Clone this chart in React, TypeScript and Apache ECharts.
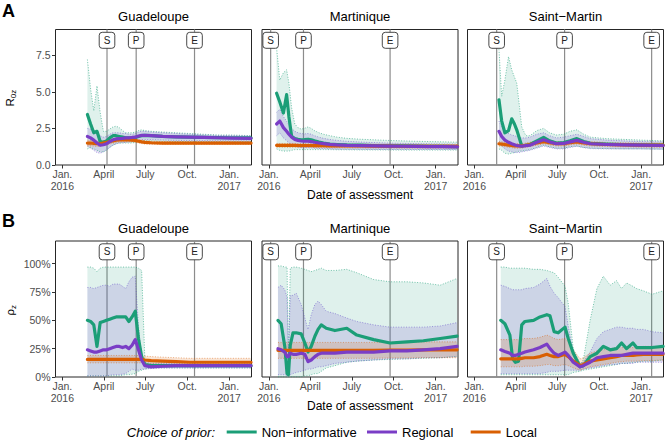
import React, { useEffect, useRef } from 'react';
import * as echarts from 'echarts';

// ---------- tick labels / categories ----------
const xTickValues = [0, 91, 182, 274, 366];
const xTickLabels = ['Jan.\n2016', 'April', 'July', 'Oct.', 'Jan.\n2017'];
const rTickValues = [0, 2.5, 5, 7.5];
const pTickValues = [0, 0.25, 0.5, 0.75, 1];
const regions = ['Guadeloupe', 'Martinique', 'Saint\u2212Martin'];
const priors = ['Non\u2212informative', 'Regional', 'Local'];
const eventLabels = ['S', 'P', 'E'];
// event dates (days since 1 Jan 2016)
const gEvents = [98, 162, 290];
const mEvents = [4, 76, 266];
const sEvents = [49, 198, 389];

// ---------- A: R0z, Guadeloupe ----------
const gDays = [55, 62, 69, 76, 83, 90, 97, 104, 111, 118, 125, 132, 139, 146, 153, 160, 167, 174, 181, 195, 220, 250, 280, 310, 340, 370, 414];
const gA_non = [3.45, 2.8, 2.2, 2.3, 1.6, 1.55, 1.65, 1.85, 2.0, 2.0, 1.95, 1.9, 1.85, 1.85, 1.85, 1.87, 1.95, 2.0, 2.02, 2.0, 1.95, 1.92, 1.9, 1.88, 1.87, 1.86, 1.85];
const gA_non_lo = [1.1, 1.2, 1.1, 1.0, 0.9, 0.9, 1.0, 1.2, 1.35, 1.45, 1.5, 1.5, 1.5, 1.5, 1.5, 1.55, 1.6, 1.65, 1.65, 1.63, 1.62, 1.61, 1.6, 1.6, 1.6, 1.6, 1.6];
const gA_non_hi = [7.2, 5.2, 3.7, 5.4, 3.6, 2.3, 2.3, 2.45, 2.6, 2.65, 2.55, 2.35, 2.2, 2.2, 2.2, 2.25, 2.35, 2.4, 2.35, 2.3, 2.25, 2.2, 2.15, 2.1, 2.05, 2.05, 2.0];
const gA_reg = [1.95, 1.85, 1.7, 1.5, 1.35, 1.38, 1.45, 1.6, 1.72, 1.78, 1.8, 1.82, 1.85, 1.85, 1.88, 1.9, 1.98, 2.02, 2.03, 2.0, 1.95, 1.92, 1.9, 1.88, 1.86, 1.84, 1.82];
const gA_reg_lo = [1.3, 1.15, 1.0, 0.85, 0.8, 0.9, 1.05, 1.2, 1.35, 1.45, 1.5, 1.52, 1.55, 1.57, 1.6, 1.62, 1.68, 1.72, 1.74, 1.73, 1.7, 1.68, 1.67, 1.66, 1.65, 1.64, 1.63];
const gA_reg_hi = [2.5, 2.45, 2.4, 2.2, 2.0, 1.9, 1.95, 2.1, 2.2, 2.2, 2.2, 2.15, 2.15, 2.1, 2.1, 2.15, 2.25, 2.3, 2.3, 2.25, 2.2, 2.15, 2.1, 2.05, 2.02, 2.0, 1.98];
const gA_loc = [1.5, 1.5, 1.48, 1.45, 1.45, 1.5, 1.55, 1.6, 1.65, 1.7, 1.72, 1.72, 1.72, 1.72, 1.7, 1.68, 1.62, 1.58, 1.55, 1.52, 1.5, 1.5, 1.5, 1.5, 1.5, 1.5, 1.5];
const gA_loc_lo = [1.3, 1.3, 1.29, 1.27, 1.28, 1.33, 1.38, 1.44, 1.49, 1.54, 1.57, 1.58, 1.58, 1.58, 1.57, 1.55, 1.5, 1.46, 1.43, 1.41, 1.4, 1.4, 1.4, 1.4, 1.4, 1.4, 1.4];
const gA_loc_hi = [1.7, 1.7, 1.68, 1.64, 1.63, 1.67, 1.72, 1.76, 1.81, 1.86, 1.87, 1.86, 1.86, 1.86, 1.83, 1.81, 1.74, 1.7, 1.67, 1.63, 1.6, 1.6, 1.6, 1.6, 1.6, 1.6, 1.6];

// ---------- B: rho z, Guadeloupe ----------
const gB_non = [0.5, 0.49, 0.46, 0.27, 0.48, 0.49, 0.5, 0.51, 0.52, 0.53, 0.53, 0.53, 0.53, 0.49, 0.53, 0.58, 0.34, 0.18, 0.11, 0.1, 0.1, 0.1, 0.1, 0.1, 0.1, 0.1, 0.1];
const gB_non_lo = [0.01, 0.01, 0.01, 0.01, 0.01, 0.01, 0.01, 0.01, 0.01, 0.01, 0.01, 0.015, 0.02, 0.02, 0.025, 0.03, 0.05, 0.06, 0.07, 0.08, 0.08, 0.08, 0.08, 0.08, 0.08, 0.08, 0.08];
const gB_non_hi = [0.97, 0.97, 0.96, 0.93, 0.96, 0.97, 0.97, 0.97, 0.97, 0.97, 0.97, 0.97, 0.97, 0.97, 0.97, 0.97, 0.96, 0.94, 0.16, 0.14, 0.13, 0.13, 0.13, 0.13, 0.13, 0.13, 0.13];
const gB_reg = [0.24, 0.23, 0.22, 0.22, 0.23, 0.24, 0.24, 0.25, 0.26, 0.27, 0.27, 0.26, 0.27, 0.25, 0.28, 0.33, 0.24, 0.15, 0.1, 0.09, 0.095, 0.1, 0.1, 0.1, 0.1, 0.1, 0.1];
const gB_reg_lo = [0.01, 0.01, 0.01, 0.01, 0.01, 0.01, 0.01, 0.015, 0.02, 0.02, 0.02, 0.025, 0.03, 0.05, 0.07, 0.06, 0.06, 0.07, 0.07, 0.075, 0.08, 0.08, 0.08, 0.08, 0.08, 0.08, 0.08];
const gB_reg_hi = [0.79, 0.79, 0.78, 0.79, 0.8, 0.81, 0.81, 0.8, 0.82, 0.82, 0.82, 0.8, 0.78, 0.84, 0.88, 0.89, 0.45, 0.18, 0.13, 0.12, 0.12, 0.12, 0.12, 0.12, 0.12, 0.12, 0.12];
const gB_loc = [0.155, 0.155, 0.155, 0.155, 0.155, 0.155, 0.155, 0.155, 0.155, 0.155, 0.155, 0.155, 0.155, 0.155, 0.155, 0.155, 0.155, 0.155, 0.15, 0.145, 0.14, 0.135, 0.13, 0.13, 0.13, 0.13, 0.13];
const gB_loc_lo = [0.125, 0.125, 0.125, 0.125, 0.125, 0.125, 0.125, 0.125, 0.125, 0.125, 0.125, 0.125, 0.125, 0.125, 0.125, 0.125, 0.125, 0.125, 0.12, 0.115, 0.11, 0.105, 0.1, 0.1, 0.1, 0.1, 0.1];
const gB_loc_hi = [0.19, 0.19, 0.19, 0.19, 0.19, 0.19, 0.19, 0.19, 0.19, 0.19, 0.19, 0.19, 0.19, 0.19, 0.19, 0.19, 0.19, 0.19, 0.185, 0.18, 0.175, 0.17, 0.165, 0.165, 0.165, 0.165, 0.165];

// ---------- A: R0z, Martinique ----------
const mA_days = [17, 24, 32, 39, 44, 50, 57, 64, 71, 78, 86, 93, 100, 110, 120, 134, 150, 171, 200, 230, 260, 290, 320, 350, 380, 414];
const mA_non = [4.9, 4.3, 3.55, 4.8, 3.3, 1.95, 1.8, 1.75, 1.72, 1.73, 1.76, 1.72, 1.65, 1.57, 1.5, 1.43, 1.4, 1.37, 1.35, 1.33, 1.31, 1.3, 1.29, 1.28, 1.27, 1.26];
const mA_non_lo = [1.1, 1.0, 0.95, 0.95, 0.95, 1.0, 1.05, 1.05, 1.05, 1.05, 1.05, 1.05, 1.05, 1.05, 1.05, 1.05, 1.04, 1.04, 1.03, 1.03, 1.03, 1.02, 1.02, 1.02, 1.02, 1.02];
const mA_non_hi = [8.0, 5.8, 6.3, 6.5, 5.6, 3.9, 2.8, 2.55, 2.45, 2.5, 2.6, 2.5, 2.35, 2.2, 2.1, 2.0, 1.9, 1.82, 1.76, 1.72, 1.68, 1.65, 1.62, 1.6, 1.58, 1.56];
const mA_reg = [2.8, 3.0, 2.55, 2.3, 2.1, 1.9, 1.75, 1.68, 1.64, 1.62, 1.62, 1.6, 1.55, 1.5, 1.46, 1.41, 1.37, 1.34, 1.32, 1.3, 1.29, 1.28, 1.27, 1.26, 1.25, 1.24];
const mA_reg_lo = [2.0, 2.2, 1.85, 1.65, 1.5, 1.38, 1.28, 1.22, 1.2, 1.18, 1.18, 1.17, 1.15, 1.13, 1.12, 1.1, 1.08, 1.07, 1.07, 1.06, 1.06, 1.06, 1.06, 1.06, 1.06, 1.06];
const mA_reg_hi = [3.6, 3.8, 3.3, 3.0, 2.75, 2.5, 2.3, 2.2, 2.15, 2.12, 2.15, 2.1, 2.0, 1.9, 1.82, 1.74, 1.68, 1.62, 1.57, 1.53, 1.5, 1.48, 1.46, 1.45, 1.44, 1.43];
const mA_loc = [1.34, 1.34, 1.34, 1.34, 1.34, 1.34, 1.34, 1.33, 1.33, 1.33, 1.33, 1.33, 1.32, 1.32, 1.32, 1.31, 1.31, 1.3, 1.3, 1.29, 1.29, 1.28, 1.28, 1.27, 1.27, 1.27];
const mA_loc_lo = [1.21, 1.21, 1.21, 1.21, 1.21, 1.21, 1.21, 1.2, 1.2, 1.2, 1.2, 1.2, 1.19, 1.19, 1.19, 1.18, 1.18, 1.17, 1.17, 1.16, 1.16, 1.15, 1.15, 1.14, 1.14, 1.14];
const mA_loc_hi = [1.47, 1.47, 1.47, 1.47, 1.47, 1.47, 1.47, 1.46, 1.46, 1.46, 1.46, 1.46, 1.45, 1.45, 1.45, 1.44, 1.44, 1.43, 1.43, 1.42, 1.42, 1.41, 1.41, 1.4, 1.4, 1.4];

// ---------- B: rho z, Martinique ----------
const mB_days = [20, 27, 35, 40, 43, 47, 53, 60, 71, 79, 86, 93, 101, 108, 115, 126, 145, 171, 193, 230, 266, 303, 339, 376, 413];
const mB_non = [0.5, 0.47, 0.27, 0.03, 0.02, 0.28, 0.39, 0.39, 0.38, 0.3, 0.22, 0.27, 0.36, 0.42, 0.46, 0.43, 0.41, 0.43, 0.37, 0.33, 0.3, 0.31, 0.32, 0.34, 0.36];
const mB_non_lo = [0.0, 0.0, 0.0, 0.0, 0.0, 0.0, 0.0, 0.0, 0.0, 0.01, 0.01, 0.02, 0.03, 0.03, 0.05, 0.08, 0.1, 0.13, 0.14, 0.15, 0.155, 0.16, 0.165, 0.17, 0.18];
const mB_non_hi = [0.98, 0.98, 0.97, 0.97, 0.15, 0.96, 0.97, 0.97, 0.96, 0.95, 0.94, 0.93, 0.94, 0.95, 0.96, 0.94, 0.94, 0.95, 0.92, 0.86, 0.84, 0.84, 0.83, 0.81, 0.87];
const mB_reg = [0.25, 0.24, 0.22, 0.18, 0.18, 0.21, 0.2, 0.2, 0.21, 0.2, 0.135, 0.15, 0.18, 0.2, 0.21, 0.21, 0.21, 0.22, 0.22, 0.22, 0.23, 0.23, 0.24, 0.25, 0.27];
const mB_reg_lo = [0.02, 0.02, 0.02, 0.01, 0.01, 0.02, 0.03, 0.04, 0.05, 0.06, 0.07, 0.07, 0.08, 0.09, 0.09, 0.1, 0.12, 0.13, 0.14, 0.15, 0.16, 0.16, 0.17, 0.17, 0.18];
const mB_reg_hi = [0.79, 0.81, 0.77, 0.7, 0.2, 0.72, 0.72, 0.74, 0.64, 0.52, 0.42, 0.55, 0.64, 0.67, 0.64, 0.58, 0.56, 0.52, 0.49, 0.46, 0.44, 0.44, 0.44, 0.45, 0.48];
const mB_loc = [0.235, 0.235, 0.235, 0.235, 0.235, 0.235, 0.235, 0.235, 0.235, 0.235, 0.235, 0.235, 0.235, 0.235, 0.235, 0.235, 0.235, 0.235, 0.235, 0.235, 0.238, 0.238, 0.24, 0.24, 0.24];
const mB_loc_lo = [0.165, 0.165, 0.165, 0.165, 0.165, 0.165, 0.165, 0.165, 0.165, 0.165, 0.165, 0.165, 0.165, 0.165, 0.165, 0.165, 0.165, 0.165, 0.165, 0.165, 0.168, 0.168, 0.17, 0.17, 0.17];
const mB_loc_hi = [0.305, 0.305, 0.305, 0.305, 0.305, 0.305, 0.305, 0.305, 0.305, 0.305, 0.305, 0.305, 0.305, 0.305, 0.305, 0.305, 0.305, 0.305, 0.305, 0.305, 0.308, 0.308, 0.31, 0.31, 0.31];

// ---------- A: R0z, Saint-Martin ----------
const sA_days = [54, 60, 67, 75, 82, 88, 93, 99, 104, 113, 122, 137, 152, 165, 180, 196, 210, 225, 240, 255, 290, 327, 364, 414];
const sA_non = [4.45, 3.0, 2.2, 2.35, 3.15, 2.8, 2.4, 1.8, 1.3, 1.35, 1.4, 1.65, 1.88, 1.65, 1.5, 1.53, 1.65, 1.8, 1.6, 1.48, 1.43, 1.4, 1.37, 1.35];
const sA_non_lo = [1.1, 1.0, 0.8, 0.75, 0.8, 0.85, 0.9, 0.95, 0.95, 1.0, 1.05, 1.2, 1.35, 1.25, 1.15, 1.15, 1.25, 1.3, 1.2, 1.15, 1.12, 1.1, 1.1, 1.08];
const sA_non_hi = [7.9, 4.7, 5.8, 7.4, 6.5, 6.0, 5.6, 4.0, 2.6, 2.0, 2.0, 2.35, 2.5, 2.2, 2.05, 2.1, 2.3, 2.4, 2.1, 1.9, 1.8, 1.75, 1.7, 1.65];
const sA_reg = [2.3, 1.95, 1.7, 1.55, 1.45, 1.38, 1.33, 1.3, 1.28, 1.32, 1.35, 1.55, 1.72, 1.58, 1.45, 1.47, 1.58, 1.68, 1.55, 1.45, 1.4, 1.37, 1.35, 1.33];
const sA_reg_lo = [1.5, 1.3, 1.1, 0.95, 0.9, 0.85, 0.85, 0.85, 0.9, 0.95, 1.0, 1.15, 1.3, 1.2, 1.1, 1.1, 1.2, 1.28, 1.18, 1.12, 1.1, 1.1, 1.1, 1.08];
const sA_reg_hi = [3.0, 2.6, 2.3, 2.15, 2.05, 2.0, 1.95, 1.9, 1.85, 1.85, 1.9, 2.1, 2.2, 2.0, 1.85, 1.9, 2.0, 2.1, 1.95, 1.8, 1.7, 1.65, 1.6, 1.58];
const sA_loc = [1.45, 1.43, 1.4, 1.36, 1.33, 1.3, 1.3, 1.3, 1.3, 1.35, 1.4, 1.5, 1.6, 1.52, 1.45, 1.45, 1.52, 1.58, 1.5, 1.45, 1.4, 1.38, 1.36, 1.35];
const sA_loc_lo = [1.3, 1.28, 1.25, 1.21, 1.18, 1.15, 1.15, 1.15, 1.15, 1.2, 1.25, 1.35, 1.45, 1.37, 1.3, 1.3, 1.37, 1.43, 1.35, 1.3, 1.26, 1.24, 1.22, 1.21];
const sA_loc_hi = [1.6, 1.58, 1.55, 1.51, 1.48, 1.45, 1.45, 1.45, 1.45, 1.5, 1.55, 1.65, 1.75, 1.67, 1.6, 1.6, 1.67, 1.73, 1.65, 1.6, 1.54, 1.52, 1.5, 1.49];

// ---------- B: rho z, Saint-Martin ----------
const sB_days = [58, 67, 78, 84, 90, 97, 104, 111, 130, 144, 159, 166, 175, 184, 199, 206, 217, 232, 239, 254, 269, 283, 298, 312, 323, 334, 348, 356, 371, 390, 414];
const sB_non = [0.5, 0.47, 0.37, 0.16, 0.13, 0.14, 0.46, 0.49, 0.5, 0.53, 0.55, 0.54, 0.4, 0.39, 0.44, 0.34, 0.21, 0.09, 0.1, 0.18, 0.21, 0.27, 0.24, 0.25, 0.3, 0.25, 0.3, 0.26, 0.26, 0.26, 0.27];
const sB_non_lo = [0.02, 0.02, 0.02, 0.02, 0.02, 0.02, 0.02, 0.02, 0.02, 0.02, 0.02, 0.02, 0.02, 0.02, 0.02, 0.02, 0.04, 0.05, 0.06, 0.07, 0.08, 0.09, 0.1, 0.11, 0.12, 0.12, 0.13, 0.13, 0.14, 0.14, 0.15];
const sB_non_hi = [0.97, 0.97, 0.96, 0.96, 0.96, 0.96, 0.96, 0.96, 0.95, 0.95, 0.94, 0.93, 0.92, 0.88, 0.8, 0.65, 0.25, 0.11, 0.15, 0.5, 0.78, 0.89, 0.81, 0.85, 0.78, 0.83, 0.8, 0.78, 0.76, 0.73, 0.76];
const sB_reg = [0.24, 0.225, 0.21, 0.19, 0.19, 0.2, 0.21, 0.22, 0.24, 0.26, 0.29, 0.25, 0.21, 0.19, 0.22, 0.19, 0.13, 0.09, 0.1, 0.13, 0.17, 0.18, 0.19, 0.19, 0.19, 0.2, 0.21, 0.21, 0.21, 0.21, 0.21];
const sB_reg_lo = [0.03, 0.03, 0.03, 0.03, 0.03, 0.03, 0.03, 0.03, 0.03, 0.03, 0.04, 0.05, 0.05, 0.05, 0.06, 0.06, 0.06, 0.06, 0.07, 0.08, 0.09, 0.1, 0.11, 0.11, 0.12, 0.12, 0.12, 0.13, 0.13, 0.13, 0.13];
const sB_reg_hi = [0.81, 0.8, 0.78, 0.77, 0.77, 0.77, 0.77, 0.78, 0.79, 0.82, 0.87, 0.8, 0.74, 0.7, 0.62, 0.45, 0.22, 0.12, 0.13, 0.22, 0.34, 0.4, 0.42, 0.44, 0.44, 0.43, 0.43, 0.42, 0.42, 0.4, 0.39];
const sB_loc = [0.16, 0.16, 0.16, 0.16, 0.16, 0.16, 0.165, 0.17, 0.17, 0.18, 0.2, 0.19, 0.18, 0.18, 0.2, 0.18, 0.14, 0.1, 0.11, 0.14, 0.15, 0.16, 0.17, 0.18, 0.19, 0.19, 0.19, 0.195, 0.2, 0.2, 0.2];
const sB_loc_lo = [0.09, 0.09, 0.09, 0.09, 0.09, 0.09, 0.09, 0.095, 0.095, 0.1, 0.11, 0.11, 0.1, 0.1, 0.11, 0.1, 0.08, 0.06, 0.07, 0.09, 0.1, 0.11, 0.12, 0.13, 0.135, 0.14, 0.14, 0.14, 0.145, 0.145, 0.15];
const sB_loc_hi = [0.33, 0.33, 0.33, 0.33, 0.33, 0.33, 0.335, 0.34, 0.34, 0.35, 0.37, 0.36, 0.34, 0.33, 0.34, 0.31, 0.24, 0.16, 0.17, 0.21, 0.23, 0.24, 0.25, 0.26, 0.26, 0.26, 0.26, 0.265, 0.27, 0.27, 0.27];

// ---------- styling ----------
const FONT = '"Liberation Sans", Arial, Helvetica, sans-serif';
const COLORS = ['#1b9e77', '#7a3dc6', '#d95f02'];
const BAND_FILL = ['rgba(27,158,119,0.14)', 'rgba(110,70,200,0.17)', 'rgba(217,95,2,0.16)'];
const DOT_COLOR = ['rgba(27,158,119,0.8)', 'rgba(100,80,200,0.75)', 'rgba(217,95,2,0.65)'];
const colLeft = [55.5, 262, 467.5];
const colWidth = 196;
const rowTop = [29.5, 241];
const rowHeight = [135.5, 136];
const yMaxRow = [9.25, 1.2];

type Trio = [number[], number[], number[]];
interface Panel { row: number; col: number; days: number[]; sets: Trio[]; events: number[] }

const panels: Panel[] = [
  { row: 0, col: 0, days: gDays, events: gEvents, sets: [[gA_non, gA_non_lo, gA_non_hi], [gA_reg, gA_reg_lo, gA_reg_hi], [gA_loc, gA_loc_lo, gA_loc_hi]] },
  { row: 0, col: 1, days: mA_days, events: mEvents, sets: [[mA_non, mA_non_lo, mA_non_hi], [mA_reg, mA_reg_lo, mA_reg_hi], [mA_loc, mA_loc_lo, mA_loc_hi]] },
  { row: 0, col: 2, days: sA_days, events: sEvents, sets: [[sA_non, sA_non_lo, sA_non_hi], [sA_reg, sA_reg_lo, sA_reg_hi], [sA_loc, sA_loc_lo, sA_loc_hi]] },
  { row: 1, col: 0, days: gDays, events: gEvents, sets: [[gB_non, gB_non_lo, gB_non_hi], [gB_reg, gB_reg_lo, gB_reg_hi], [gB_loc, gB_loc_lo, gB_loc_hi]] },
  { row: 1, col: 1, days: mB_days, events: mEvents, sets: [[mB_non, mB_non_lo, mB_non_hi], [mB_reg, mB_reg_lo, mB_reg_hi], [mB_loc, mB_loc_lo, mB_loc_hi]] },
  { row: 1, col: 2, days: sB_days, events: sEvents, sets: [[sB_non, sB_non_lo, sB_non_hi], [sB_reg, sB_reg_lo, sB_reg_hi], [sB_loc, sB_loc_lo, sB_loc_hi]] },
];

function pairs(days: number[], v: number[]) {
  return days.map((d, i) => [d, v[i]]);
}

function buildOption(): any {
  const grid = panels.map((p) => ({
    left: colLeft[p.col], top: rowTop[p.row], width: colWidth, height: rowHeight[p.row],
    show: true, borderColor: '#262626', borderWidth: 1, backgroundColor: 'transparent',
  }));
  const xAxis = panels.map((p, i) => ({
    type: 'value', gridIndex: i, min: -15, max: 415,
    axisLine: { show: false, onZero: false },
    splitLine: { show: false },
    axisTick: { show: true, customValues: xTickValues, length: 3.5, lineStyle: { color: '#333', width: 1 } },
    axisLabel: {
      customValues: xTickValues, margin: 2.5, fontSize: 10.5, lineHeight: 12.5, color: '#4d4d4d', fontFamily: FONT,
      formatter: (v: number) => { const k = xTickValues.indexOf(v); return k >= 0 ? xTickLabels[k] : ''; },
    },
  }));
  const yAxis = panels.map((p, i) => ({
    type: 'value', gridIndex: i, min: 0, max: yMaxRow[p.row],
    axisLine: { show: false, onZero: false },
    splitLine: { show: false },
    axisTick: { show: p.col === 0, customValues: p.row === 0 ? rTickValues : pTickValues, length: 3.5, lineStyle: { color: '#333', width: 1 } },
    axisLabel: {
      show: p.col === 0, customValues: p.row === 0 ? rTickValues : pTickValues, margin: 5,
      fontSize: 10.5, color: '#4d4d4d', fontFamily: FONT,
      formatter: p.row === 0 ? (v: number) => v.toFixed(1) : (v: number) => Math.round(v * 100) + '%',
    },
  }));

  const series: any[] = [];
  panels.forEach((p, gi) => {
    const yMax = yMaxRow[p.row];
    // event vertical lines
    series.push({
      type: 'custom', xAxisIndex: gi, yAxisIndex: gi, z: 1, silent: true,
      data: p.events.map((d, i) => [d, i]),
      encode: { x: 0, y: 1 },
      renderItem: (params: any, api: any) => {
        const x = api.value(0);
        const a = api.coord([x, yMax]);
        const b = api.coord([x, 0]);
        return { type: 'line', shape: { x1: a[0], y1: a[1], x2: b[0], y2: b[1] }, style: { stroke: '#8c8c8c', lineWidth: 1.2 } };
      },
    });
    // credible bands
    p.sets.forEach((s, k) => {
      const lo = s[1];
      const hi = s[2];
      series.push({
        type: 'custom', xAxisIndex: gi, yAxisIndex: gi, z: 2, silent: true,
        data: p.days.map((d, i) => [d, lo[i], hi[i]]),
        encode: { x: 0, y: [1, 2] },
        renderItem: (params: any, api: any) => {
          if (params.dataIndex !== 0) return null;
          const pts: number[][] = [];
          for (let i = 0; i < p.days.length; i++) pts.push(api.coord([p.days[i], hi[i]]));
          for (let i = p.days.length - 1; i >= 0; i--) pts.push(api.coord([p.days[i], lo[i]]));
          return { type: 'polygon', shape: { points: pts }, style: { fill: BAND_FILL[k], stroke: 'none' } };
        },
      });
    });
    // dotted band bounds
    p.sets.forEach((s, k) => {
      [s[1], s[2]].forEach((arr) => {
        series.push({
          type: 'line', xAxisIndex: gi, yAxisIndex: gi, z: 3, silent: true,
          data: pairs(p.days, arr), showSymbol: false, symbol: 'none',
          lineStyle: { color: DOT_COLOR[k], width: 0.75, type: [1, 1.6] },
          itemStyle: { color: DOT_COLOR[k] },
        });
      });
    });
    // main lines (green, orange, purple on top)
    [0, 2, 1].forEach((k) => {
      series.push({
        name: priors[k], type: 'line', xAxisIndex: gi, yAxisIndex: gi, z: 4, silent: true,
        data: pairs(p.days, p.sets[k][0]), showSymbol: false, symbol: 'none',
        lineStyle: { color: COLORS[k], width: 3.2, join: 'round', cap: 'round' },
        itemStyle: { color: COLORS[k] },
      });
    });
    // event label boxes
    series.push({
      type: 'custom', xAxisIndex: gi, yAxisIndex: gi, z: 6, silent: true,
      data: p.events.map((d, i) => [d, i]),
      encode: { x: 0, y: 1 },
      renderItem: (params: any, api: any) => {
        const x = api.value(0);
        const idx = api.value(1);
        const a = api.coord([x, yMax]);
        return {
          type: 'group',
          children: [
            { type: 'rect', shape: { x: a[0] - 7.8, y: a[1] + 2.8, width: 15.6, height: 16, r: 3 }, style: { fill: '#ffffff', stroke: '#333333', lineWidth: 0.9 } },
            {
              type: 'text', x: a[0], y: a[1] + 10.9,
              style: { text: eventLabels[idx], fill: '#222222', fontSize: 10, fontFamily: FONT, align: 'center', verticalAlign: 'middle', textAlign: 'center', textVerticalAlign: 'middle' },
            },
          ],
        };
      },
    });
  });

  const txt = (text: string, x: number, y: number, extra: any = {}) => ({
    type: 'text', x, y, silent: true,
    style: { text, fill: '#000', fontSize: 13, fontFamily: FONT, align: 'center', verticalAlign: 'middle', textAlign: 'center', textVerticalAlign: 'middle', ...extra },
  });

  const graphic: any[] = [
    txt('A', 2, 10.5, { fontSize: 18, fontWeight: 'bold', align: 'left', textAlign: 'left' }),
    txt('B', 2, 220.5, { fontSize: 18, fontWeight: 'bold', align: 'left', textAlign: 'left' }),
    txt('Date of assessment', 360, 194.5, { fontSize: 12 }),
    txt('Date of assessment', 360, 405.5, { fontSize: 12 }),
    txt('Choice of prior:', 215, 432, { fontSize: 13, fontStyle: 'italic', align: 'right', textAlign: 'right' }),
    {
      type: 'group', x: 10, y: 106.5, rotation: Math.PI / 2, silent: true,
      children: [
        txt('R', 0, 0, { fontSize: 11.5, align: 'left', textAlign: 'left' }),
        txt('0z', 8.3, 3.4, { fontSize: 8, align: 'left', textAlign: 'left' }),
      ],
    },
    {
      type: 'group', x: 9.7, y: 315.5, rotation: Math.PI / 2, silent: true,
      children: [
        txt('\u03c1', 0, 0, { fontSize: 11.5, align: 'left', textAlign: 'left' }),
        txt('z', 6.6, 3.6, { fontSize: 8, align: 'left', textAlign: 'left' }),
      ],
    },
  ];
  regions.forEach((r, c) => {
    graphic.push(txt(r, colLeft[c] + colWidth / 2, 16.5));
    graphic.push(txt(r, colLeft[c] + colWidth / 2, 228.5));
  });

  const legendLefts = [226.7, 367, 470.7];
  const legend = priors.map((name, k) => ({
    data: [name], left: legendLefts[k], top: 425.5, padding: 0, icon: 'rect',
    itemWidth: 30, itemHeight: 3, selectedMode: false,
    textStyle: { fontSize: 13, fontFamily: FONT, color: '#000', lineHeight: 13 },
  }));

  return { animation: false, backgroundColor: '#ffffff', grid, xAxis, yAxis, series, graphic, legend };
}

export default function App() {
  const ref = useRef<HTMLDivElement>(null);
  useEffect(() => {
    document.body.style.margin = '0';
    const chart = echarts.init(ref.current as HTMLDivElement, null, { renderer: 'svg' });
    chart.setOption(buildOption());
    return () => chart.dispose();
  }, []);
  return <div ref={ref} style={{ width: 667, height: 442 }} />;
}
